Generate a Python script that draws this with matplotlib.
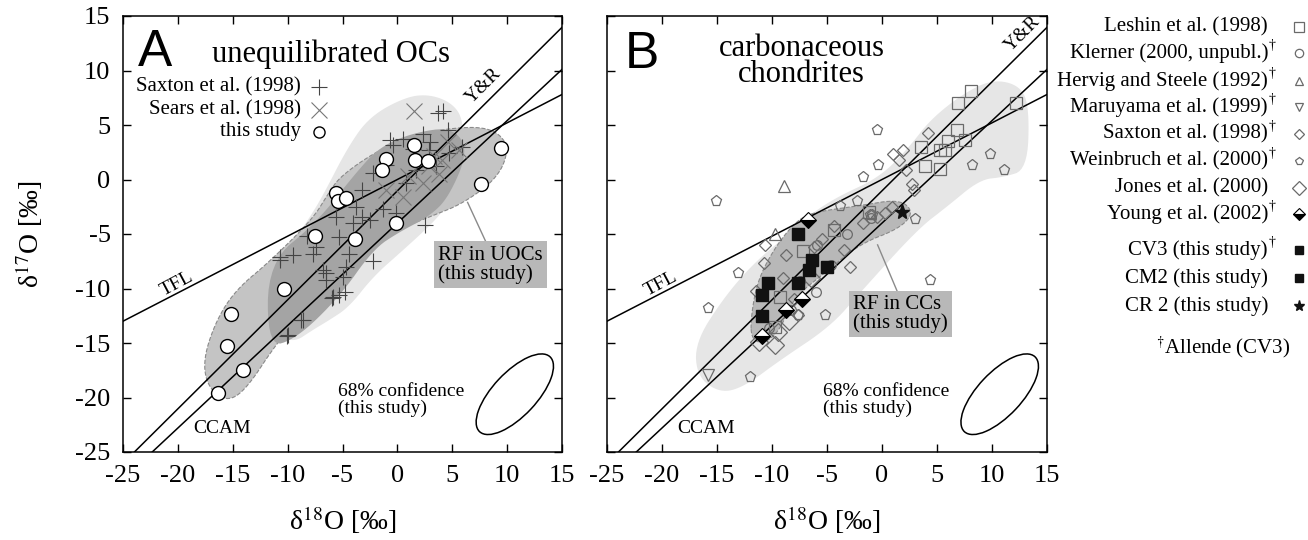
import numpy as np
import matplotlib.pyplot as plt
from matplotlib.patches import Polygon, Ellipse
from matplotlib.lines import Line2D

plt.rcParams['font.family'] = ['Liberation Serif', 'DejaVu Serif']
plt.rcParams['mathtext.fontset'] = 'stix'
plt.rcParams['axes.unicode_minus'] = False

# reference lines: (slope, intercept)
line_yr = (1.00, -1.04)
line_ccam = (0.94, -4.0)
line_tfl = (0.52, 0.0)

# ---- panel A data (unequilibrated OCs) ----
saxton_a_x = [3.7, 4.2, 4.6, 2.3, -0.7, -0.4, 2.9, 5.9, 4.7, -2.2, -1.0, 1.7, 3.5, -5.6, -3.8, -3.2,
              -2.5, -1.3, -0.1, -5.3, -4.4, -7.4, -7.7, -10.7, -9.5, -6.8, -6.5, -4.7, -5.0, -5.9, -5.3,
              -4.8, -8.6, -10.0, 2.5, -2.2, -10.7, -6.5, -6.0, -8.8, -10.1, 0.5, 1.4, -3.2, -4.0, 0.8,
              3.0, -8.2]
saxton_a_y = [6.1, 6.3, 4.5, 4.2, 3.6, 3.2, 2.7, 3.0, 2.4, 0.6, 1.3, 0.9, 1.2, -3.4, -2.5, -3.4,
              -3.7, -2.7, -3.1, -5.3, -6.8, -6.2, -6.8, -7.1, -6.9, -8.3, -9.2, -8.0, -8.9, -10.8, -10.6,
              -10.3, -12.9, -14.3, -4.2, -7.5, -7.4, -8.6, -10.9, -12.9, -14.4, 3.7, 2.8, -1.0, -4.0, -0.3,
              3.4, -5.2]
sears_x = [1.5, 0.5, 2.3, 4.1, 5.6, 2.9, 3.3, -1.0, 4.6, 1.0, 3.8]
sears_y = [6.3, -1.6, -0.3, 1.8, 2.7, 1.2, 2.2, -1.0, 3.4, 0.3, 0.5]
this_a_x = [1.5, -1.0, -1.4, 1.6, 2.8, 9.4, 7.6, -5.6, -5.4, -4.7, -7.5, -3.9, -0.1, -10.3,
            -15.2, -15.5, -14.1, -16.3]
this_a_y = [3.2, 1.9, 0.9, 1.8, 1.7, 2.9, -0.4, -1.2, -2.0, -1.7, -5.2, -5.5, -4.0, -10.0,
            -12.3, -15.3, -17.5, -19.6]

region_a_light = [(0.8, 7.6), (3, 7.8), (5, 7), (6, 5.5), (6, 2), (4.5, -2.5), (3, -4.2), (0.5, -6.5),
                  (-2.2, -8.9), (-4.4, -11.7), (-6.2, -12.9), (-7.7, -13.8), (-9.5, -15), (-11, -14),
                  (-11, -8), (-8, -3.5), (-6.8, -1.5), (-4.5, 3), (-2.5, 5.8)]
region_a_mid = [(-15.6, -20.4), (-17.3, -19.0), (-17.7, -16.5), (-16.5, -12.9), (-14.7, -10.1),
                (-11.6, -7.5), (-7.7, -3.6), (-6.3, -1.3), (-5.2, 0.3), (-1.9, 2.6), (1.7, 4.2),
                (6.5, 4.9), (9.0, 4.5), (10.2, 2.9), (9.2, 0.2), (6.0, -2.2), (3.0, -3.4), (0.0, -4.6),
                (-2.5, -6.2), (-5.0, -8.5), (-8.0, -11.5), (-11.0, -15.0), (-13.8, -19.3)]
region_a_dark = [(-11.8, -7.6), (-7.4, -4.0), (-3.8, 0.6), (-1.6, 3.0), (1.5, 4.3), (5.0, 4.8),
                 (6.5, 2.7), (4.7, -1.6), (2.9, -3.4), (0.2, -4.8), (-2.2, -6.4), (-5.3, -10.8),
                 (-9.2, -14.6), (-11.8, -15.4)]

# ---- panel B data (carbonaceous chondrites) ----
leshin_x = [8.1, 6.9, 12.2, 6.8, 7.5, 6.0, 5.3, 5.3, 3.9, 3.5, -7.2, -9.3, -9.7, -4.4, 5.7, -1.2]
leshin_y = [8.1, 7.0, 7.0, 4.5, 3.6, 3.5, 2.7, 1.0, 1.2, 3.0, -6.6, -10.8, -13.5, -4.6, 2.7, -3.0]
klerner_x = [-6.0, -3.2, -5.9, -7.5, -10.3, -8.3, -4.6, -1.0]
klerner_y = [-10.3, -5.0, -6.0, -9.3, -13.6, -12.0, -7.8, -3.5]
hervig_x = [-8.9, -9.7]
hervig_y = [-0.6, -5.0]
maruyama_x = [-15.8]
maruyama_y = [-17.9]
saxton_b_x = [1.0, 1.9, 4.2, 2.7, 2.9, 0.9, 0.3, -10.6, -10.7, -8.7, -6.2, -7.6, -2.9, -4.4, 2.2,
              -1.7, -0.5, -5.5, -9.0, -11.5, -8.0, 1.5, -3.5]
saxton_b_y = [2.3, 2.7, 4.3, -0.4, -1.0, -2.5, -3.1, -6.0, -7.7, -6.9, -6.2, -12.4, -8.0, -4.3, 0.9,
              -4.0, -3.4, -5.5, -9.0, -10.2, -11.0, 1.8, -6.5]
weinbruch_x = [-15.1, -13.1, -15.8, -12.0, -7.6, -5.2, -0.5, -0.4, -1.7, -3.8, -2.3, -1.1, 9.8, 8.2,
               11.1, 3.0, 4.4, -0.9]
weinbruch_y = [-2.0, -8.6, -11.8, -18.1, -12.4, -12.4, 4.5, 1.3, 0.2, -2.4, -2.0, -3.3, 2.3, 1.3,
               0.9, -3.6, -9.2, -3.3]
jones_x = [-9.7, -9.5, -8.5, -6.5, -11.2]
jones_y = [-15.2, -14.0, -13.0, -9.0, -14.9]
young_x = [-6.7, -10.9, -7.3, -8.7]
young_y = [-3.7, -14.4, -11.0, -12.0]
cv3_x = [-7.6, -6.4, -6.6, -5.0]
cv3_y = [-5.0, -7.4, -8.3, -8.0]
cm2_x = [-10.4, -10.9, -10.9, -7.6]
cm2_y = [-9.5, -10.6, -12.5, -9.5]
cr2_x = [1.8]
cr2_y = [-3.0]

region_b_light = [(-16.8, -18.1), (-17.0, -15.0), (-14.5, -11), (-11.7, -7.7), (-8.5, -5.0),
                  (-6.8, -3.4), (-4.1, -1.6), (-0.2, 0.2), (2.5, 3.0), (4.4, 5.5), (7.4, 7.9),
                  (10.1, 9.2), (12.6, 8.6), (13.4, 6.5), (13.2, 0.9), (11, 0.2), (8.9, 0.0),
                  (5.9, -2.5), (3.2, -4.6), (-2, -10.4), (-4.7, -13.5), (-9.3, -16.6),
                  (-12.5, -19.0), (-14.7, -19.6)]
region_b_mid = [(-11.9, -14.6), (-11.9, -12.5), (-11.3, -9.2), (-9.6, -6.0), (-7.5, -3.5),
                (-5.6, -2.9), (-2.0, -2.4), (1.6, -1.8), (2.9, -3.0), (1.6, -4.5), (-2.0, -5.9),
                (-5.0, -8.4), (-8.1, -10.9), (-9.3, -13.9), (-10.8, -15.1)]

gray_pts = '#6a6a6a'


def chaikin(pts, n=3):
    p = np.asarray(pts, float)
    for _ in range(n):
        nxt = np.roll(p, -1, axis=0)
        q = 0.75 * p + 0.25 * nxt
        r = 0.25 * p + 0.75 * nxt
        p = np.empty((2 * len(q), 2))
        p[0::2] = q
        p[1::2] = r
    return p


def setup(ax, left_labels=True):
    ax.set_xlim(-25, 15)
    ax.set_ylim(-25, 15)
    ax.set_xticks(range(-25, 20, 5))
    ax.set_yticks(range(-25, 20, 5))
    ax.tick_params(direction='in', top=True, right=True, length=6, width=1,
                   labelsize=19, pad=9, labelleft=left_labels)
    for s in ax.spines.values():
        s.set_linewidth(1.1)
    ax.set_xlabel('δ$^{18}$O [‰]', fontsize=20, labelpad=13)
    xs = np.array([-25.0, 15.0])
    for m, c in (line_yr, line_ccam, line_tfl):
        ax.plot(xs, m * xs + c, color='black', lw=1.1, zorder=2)
    ax.add_patch(Ellipse((10.7, -19.7), 9.4, 4.0, angle=47, fill=False, ec='black', lw=1.1, zorder=2))
    ax.text(-5.4, -20.2, '68% confidence\n(this study)', fontsize=14, ha='left', va='center',
            linespacing=0.95, zorder=4)
    ax.text(-20.1, -9.6, 'TFL', fontsize=14, rotation=28, ha='center', va='center', zorder=4)
    ax.text(-16.0, -22.8, 'CCAM', fontsize=14, ha='center', va='center', zorder=4)


fig = plt.figure(figsize=(13.08, 5.4), dpi=100)
axA = fig.add_axes([123 / 1308, 1 - 452 / 540, 439 / 1308, 436 / 540])
axB = fig.add_axes([607 / 1308, 1 - 452 / 540, 440 / 1308, 436 / 540])

# ---------------- panel A ----------------
setup(axA)
axA.set_ylabel('δ$^{17}$O [‰]', fontsize=20, labelpad=22)
axA.add_patch(Polygon(chaikin(region_a_light), closed=True, fc='#e6e6e6', ec='none', zorder=0.5))
axA.add_patch(Polygon(chaikin(region_a_mid), closed=True, fc='#c4c4c4', ec='#8a8a8a', ls='--',
                      lw=0.8, zorder=0.6))
axA.add_patch(Polygon(chaikin(region_a_dark), closed=True, fc='#a4a4a4', ec='none', zorder=0.7))
axA.plot(saxton_a_x, saxton_a_y, '+', color='#444444', ms=12, mew=0.8, ls='none', zorder=3)
axA.plot(sears_x, sears_y, 'x', color='#777777', ms=11, mew=0.8, ls='none', zorder=3)
axA.plot(this_a_x, this_a_y, 'o', mfc='white', mec='black', ms=10, mew=1.0, ls='none', zorder=3.5)

axA.text(-23.6, 10.4, 'A', fontsize=37, family=['Liberation Sans', 'DejaVu Sans'], zorder=4)
axA.text(-16.9, 10.8, 'unequilibrated OCs', fontsize=22, zorder=4)
axA.text(7.9, 8.6, 'Y&R', fontsize=14, rotation=45, ha='center', va='center', zorder=4)
legA = [('Saxton et al. (1998)', dict(marker='+', color='#444444', ms=12, mew=0.8)),
        ('Sears et al. (1998)', dict(marker='x', color='#777777', ms=11, mew=0.8)),
        ('this study', dict(marker='o', mfc='white', mec='black', ms=8, mew=1.0))]
for (lab, st), yy in zip(legA, [8.5, 6.4, 4.4]):
    axA.text(-8.8, yy, lab, fontsize=15, ha='right', va='center', zorder=4)
    axA.plot([-7.1], [yy], ls='none', zorder=4, **st)
axA.plot([8.1, 6.4], [-5.8, -2.1], color='#8a8a8a', lw=1.0, zorder=2.5)
axA.text(3.7, -7.8, 'RF in UOCs\n(this study)', fontsize=15, ha='left', va='center', linespacing=0.95,
         zorder=4, bbox=dict(fc='#b8b8b8', ec='none', pad=3))

# ---------------- panel B ----------------
setup(axB, left_labels=False)
axB.add_patch(Polygon(chaikin(region_b_light), closed=True, fc='#e6e6e6', ec='none', zorder=0.5))
axB.add_patch(Polygon(chaikin(region_b_mid), closed=True, fc='#b8b8b8', ec='#8a8a8a', ls='--',
                      lw=0.8, zorder=0.6))
open_kw = dict(mfc='none', mec=gray_pts, mew=0.9, ls='none', zorder=3)
axB.plot(leshin_x, leshin_y, 's', ms=9, **open_kw)
axB.plot(klerner_x, klerner_y, 'o', ms=7, **open_kw)
axB.plot(hervig_x, hervig_y, '^', ms=8, **open_kw)
axB.plot(maruyama_x, maruyama_y, 'v', ms=8, **open_kw)
axB.plot(saxton_b_x, saxton_b_y, 'D', ms=6, **open_kw)
axB.plot(weinbruch_x, weinbruch_y, 'p', ms=8, **open_kw)
axB.plot(jones_x, jones_y, 'D', ms=9, **open_kw)
axB.plot(young_x, young_y, 'D', ms=8, fillstyle='bottom', mfc='black', mfcalt='white', mec='black',
         mew=0.8, ls='none', zorder=3.4)
axB.plot(cv3_x, cv3_y, 's', ms=8, color='#111111', ls='none', zorder=3.5)
axB.plot(cm2_x, cm2_y, 's', ms=8, color='#111111', ls='none', zorder=3.5)
axB.plot(cr2_x, cr2_y, '*', ms=11, color='#111111', ls='none', zorder=3.5)

axB.text(-23.4, 10.2, 'B', fontsize=37, family=['Liberation Sans', 'DejaVu Sans'], zorder=4)
axB.text(-7.3, 11.3, 'carbonaceous', fontsize=22, ha='center', zorder=4)
axB.text(-7.3, 8.9, 'chondrites', fontsize=22, ha='center', zorder=4)
axB.text(12.8, 13.4, 'Y&R', fontsize=14, rotation=45, ha='center', va='center', zorder=4)
axB.plot([1.4, -0.4], [-10.3, -6.0], color='#8a8a8a', lw=1.0, zorder=2.5)
axB.text(-2.6, -12.35, 'RF in CCs\n(this study)', fontsize=15, ha='left', va='center',
         linespacing=0.95, zorder=4, bbox=dict(fc='#b8b8b8', ec='none', pad=3))

# ---------------- right legend ----------------
legend_rows = [
    ('Leshin et al. (1998)', False, dict(marker='s', ms=7, mfc='none', mec=gray_pts, mew=0.9)),
    ('Klerner (2000, unpubl.)', True, dict(marker='o', ms=6, mfc='none', mec=gray_pts, mew=0.9)),
    ('Hervig and Steele (1992)', True, dict(marker='^', ms=6, mfc='none', mec=gray_pts, mew=0.9)),
    ('Maruyama et al. (1999)', True, dict(marker='v', ms=6, mfc='none', mec=gray_pts, mew=0.9)),
    ('Saxton et al. (1998)', True, dict(marker='D', ms=5, mfc='none', mec=gray_pts, mew=0.9)),
    ('Weinbruch et al. (2000)', True, dict(marker='p', ms=6, mfc='none', mec=gray_pts, mew=0.9)),
    ('Jones et al. (2000)', False, dict(marker='D', ms=7, mfc='none', mec=gray_pts, mew=0.9)),
    ('Young et al. (2002)', True, dict(marker='D', ms=6, fillstyle='bottom', mfc='black',
                                       mfcalt='white', mec='black', mew=0.8)),
    ('CV3 (this study)', True, dict(marker='s', ms=6, color='#111111')),
    ('CM2 (this study)', False, dict(marker='s', ms=6, color='#111111')),
    ('CR 2 (this study)', False, dict(marker='*', ms=8, color='#111111')),
]
row_px = [27, 53, 81, 107, 134, 161, 188, 214, 250, 278, 306]
for (lab, dag, st), py in zip(legend_rows, row_px):
    fy = 1 - py / 540
    fig.text(1268 / 1308, fy, lab, fontsize=15, ha='right', va='center')
    if dag:
        fig.text(1269 / 1308, fy + 0.014, '†', fontsize=10, ha='left', va='center')
    fig.add_artist(Line2D([1299 / 1308], [fy], ls='none', transform=fig.transFigure, **st))
fig.text(1223 / 1308, 1 - 347 / 540, '$^{\\dagger}$Allende (CV3)', fontsize=15, ha='center',
         va='center')

fig.savefig('out.png', dpi=100)
